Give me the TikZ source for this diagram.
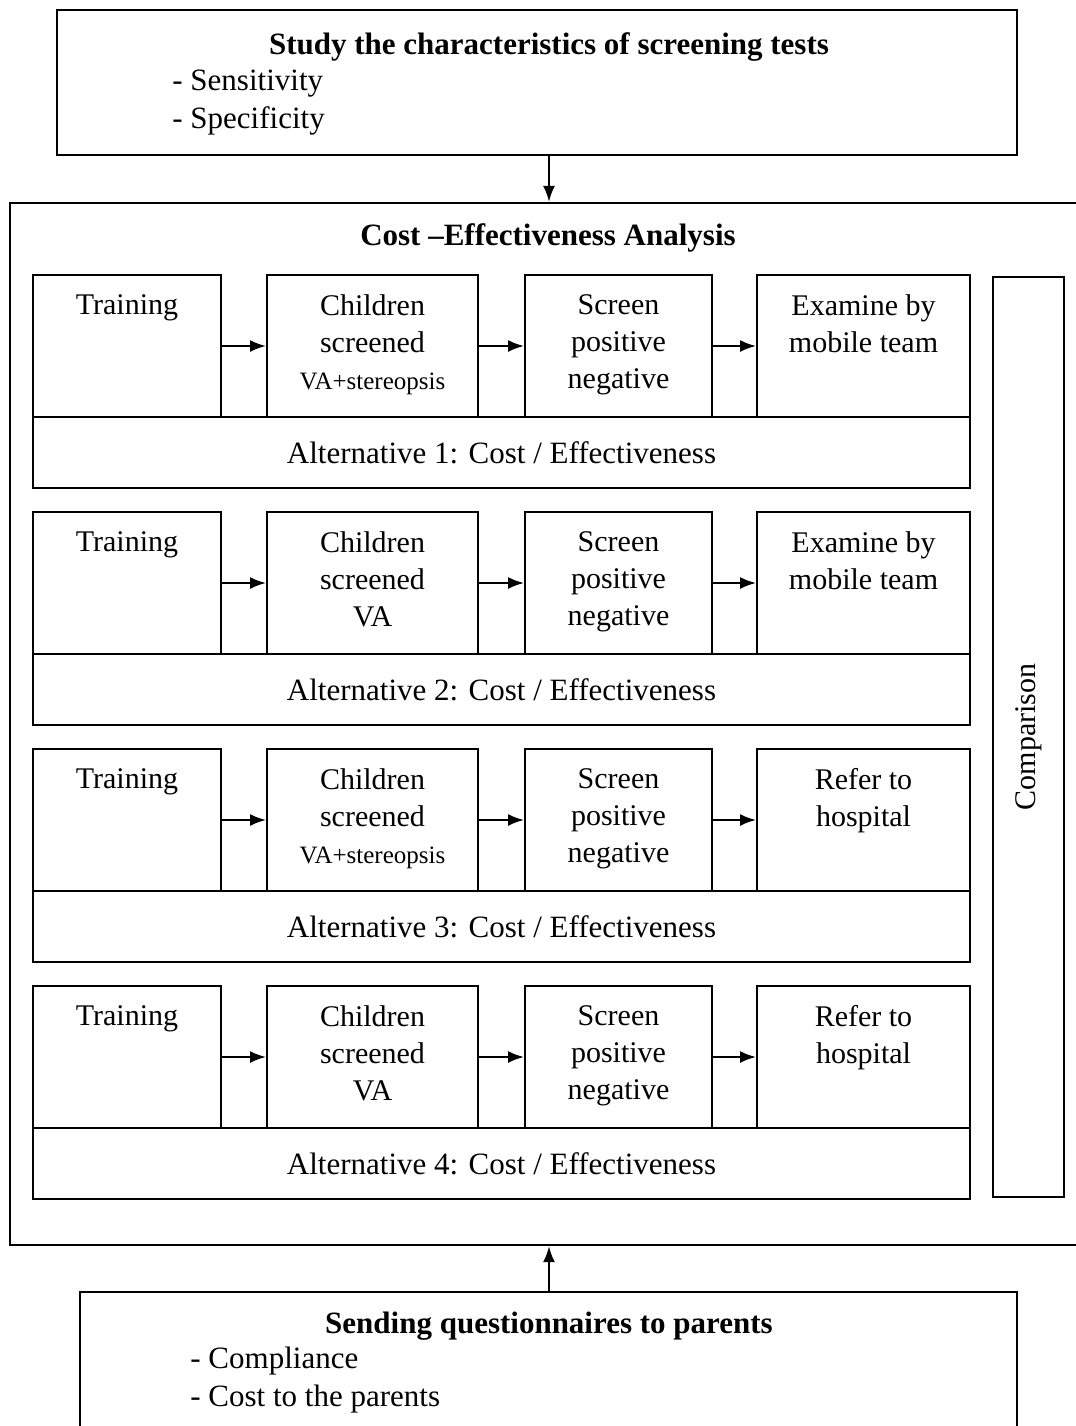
\documentclass[tikz,border=0pt]{standalone}
\usepackage{fontspec}
\setmainfont{Liberation Serif}
\usetikzlibrary{arrows.meta, positioning}

\newcommand{\vasmall}[1]{{\fontsize{12.5}{18.5}\selectfont #1}}

\tikzset{
  frame/.style={draw, line width=1.2pt, inner sep=0pt},
  cell/.style={draw, line width=1pt, inner sep=0pt, minimum height=71pt},
  celltext/.style={align=center, inner sep=0pt, font=\fontsize{15}{18.5}\selectfont},
  alt/.style={draw, line width=1pt, minimum width=468.5pt, minimum height=35.5pt,
    inner sep=0pt, font=\fontsize{15.5}{18.5}\selectfont},
  flow/.style={-{Latex[length=8pt,width=6pt]}, line width=1pt},
  head/.style={inner sep=0pt, font=\fontsize{15.5}{18.5}\selectfont\bfseries},
  items/.style={align=left, anchor=west, inner sep=0pt, font=\fontsize{15.5}{19}\selectfont}
}

\begin{document}
\begin{tikzpicture}[x=0.5pt, y=0.5pt]
\useasboundingbox (0,0) rectangle (1076,-1426);
\clip (0,0) rectangle (1076,-1426);

% Screening tests
\node[frame, minimum width=480pt, minimum height=72.5pt] (study) at (537,-82.5) {};
\node[head] (studyhead) at (549,-47) {Study the characteristics of screening tests};
\node[items] (studyitems) at (172,-103) {- Sensitivity\\- Specificity};

% Cost-effectiveness frame
\node[frame, minimum width=545pt, minimum height=521pt] (cea) at (555,-724) {};
\node[head] (ceahead) at (548,-238) {Cost --Effectiveness Analysis};

% Alternative 1
\node[cell, minimum width=94pt] (t1) at (127,-346) {};
\node[cell, minimum width=105.5pt] (c1) at (372.5,-346) {};
\node[cell, minimum width=93.5pt] (s1) at (618.5,-346) {};
\node[cell, minimum width=106.5pt] (e1) at (863.5,-346) {};
\node[celltext, below=10pt of t1.north] (t1t) {Training};
\node[celltext, below=10pt of c1.north] (c1t) {Children\\screened\\\vasmall{VA+stereopsis}};
\node[celltext, below=10pt of s1.north] (s1t) {Screen\\positive\\negative};
\node[celltext, below=10pt of e1.north] (e1t) {Examine by\\mobile team};
\node[alt] (a1) at (501.5,-452.5) {Alternative 1: Cost / Effectiveness};
\draw[flow] (t1) -- (c1);
\draw[flow] (c1) -- (s1);
\draw[flow] (s1) -- (e1);

% Alternative 2
\node[cell, minimum width=94pt] (t2) at (127,-583) {};
\node[cell, minimum width=105.5pt] (c2) at (372.5,-583) {};
\node[cell, minimum width=93.5pt] (s2) at (618.5,-583) {};
\node[cell, minimum width=106.5pt] (e2) at (863.5,-583) {};
\node[celltext, below=10pt of t2.north] (t2t) {Training};
\node[celltext, below=10pt of c2.north] (c2t) {Children\\screened\\VA};
\node[celltext, below=10pt of s2.north] (s2t) {Screen\\positive\\negative};
\node[celltext, below=10pt of e2.north] (e2t) {Examine by\\mobile team};
\node[alt] (a2) at (501.5,-689.5) {Alternative 2: Cost / Effectiveness};
\draw[flow] (t2) -- (c2);
\draw[flow] (c2) -- (s2);
\draw[flow] (s2) -- (e2);

% Alternative 3
\node[cell, minimum width=94pt] (t3) at (127,-820) {};
\node[cell, minimum width=105.5pt] (c3) at (372.5,-820) {};
\node[cell, minimum width=93.5pt] (s3) at (618.5,-820) {};
\node[cell, minimum width=106.5pt] (e3) at (863.5,-820) {};
\node[celltext, below=10pt of t3.north] (t3t) {Training};
\node[celltext, below=10pt of c3.north] (c3t) {Children\\screened\\\vasmall{VA+stereopsis}};
\node[celltext, below=10pt of s3.north] (s3t) {Screen\\positive\\negative};
\node[celltext, below=10pt of e3.north] (e3t) {Refer to\\hospital};
\node[alt] (a3) at (501.5,-926.5) {Alternative 3: Cost / Effectiveness};
\draw[flow] (t3) -- (c3);
\draw[flow] (c3) -- (s3);
\draw[flow] (s3) -- (e3);

% Alternative 4
\node[cell, minimum width=94pt] (t4) at (127,-1057) {};
\node[cell, minimum width=105.5pt] (c4) at (372.5,-1057) {};
\node[cell, minimum width=93.5pt] (s4) at (618.5,-1057) {};
\node[cell, minimum width=106.5pt] (e4) at (863.5,-1057) {};
\node[celltext, below=10pt of t4.north] (t4t) {Training};
\node[celltext, below=10pt of c4.north] (c4t) {Children\\screened\\VA};
\node[celltext, below=10pt of s4.north] (s4t) {Screen\\positive\\negative};
\node[celltext, below=10pt of e4.north] (e4t) {Refer to\\hospital};
\node[alt] (a4) at (501.5,-1163.5) {Alternative 4: Cost / Effectiveness};
\draw[flow] (t4) -- (c4);
\draw[flow] (c4) -- (s4);
\draw[flow] (s4) -- (e4);

% Comparison column
\node[draw, line width=1pt, rotate=90, minimum width=460pt, minimum height=35.5pt,
  inner sep=0pt, font=\fontsize{15}{18}\selectfont] (cmp) at (1028.5,-737) {Comparison};

% Questionnaires
\node[frame, minimum width=468.5pt, minimum height=84pt] (survey) at (548.5,-1376) {};
\node[head] (surveyhead) at (549,-1326) {Sending questionnaires to parents};
\node[items] (surveyitems) at (190,-1380) {- Compliance\\- Cost to the parents};

% Links to the frame
\draw[flow] (studyhead.center |- study.south) -- (studyhead.center |- cea.north);
\draw[flow] (surveyhead.center |- survey.north) -- (surveyhead.center |- cea.south);
\end{tikzpicture}
\end{document}
